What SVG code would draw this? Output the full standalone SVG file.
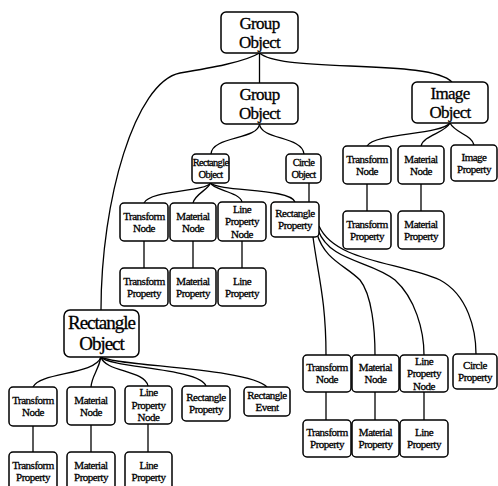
<svg xmlns="http://www.w3.org/2000/svg" width="498" height="486" viewBox="0 0 498 486">
<style>
  rect { fill: #fff; stroke: #000; stroke-width: 1.5; }
  .c path, .c line { fill: none; stroke: #000; stroke-width: 1.3; }
  text { font-family: "Liberation Serif", "Times New Roman", serif; fill: #000; text-anchor: middle; stroke: #000; stroke-width: 0.3; }
  .s { font-size: 11px; letter-spacing: -0.5px; }
  .m { font-size: 10.5px; letter-spacing: -0.7px; }
  .b { font-size: 17px; letter-spacing: -0.7px; }
  .x { font-size: 19px; letter-spacing: -1px; }
</style>
<rect x="0" y="0" width="498" height="486" style="fill:#fff;stroke:none"/>
<g class="c" id="connectors">
  <line x1="259.5" y1="53" x2="259.5" y2="83"/>
  <path d="M259.5,53 C270,62 300,64 350,66 S440,70 452,82"/>
  <path d="M259.5,53 C245,62 210,68 180,73 C135,82 101,200 101,310"/>
  <path d="M259.5,124 C258,140 212,136 211,154"/>
  <path d="M259.5,124 C261,140 302,136 304,154"/>
  <path d="M210.5,183 C205,192 150,190 144,203"/>
  <path d="M210.5,183 C208,190 195,194 193,203"/>
  <path d="M210.5,183 C213,190 240,192 242,202"/>
  <path d="M210.5,183 C220,192 290,188 295,202"/>
  <line x1="309" y1="183" x2="309" y2="202"/>
  <path d="M313,237 C318,275 326,300 326,355"/>
  <path d="M317,234 C325,260 345,265 360,280 C372,295 375,330 375,355"/>
  <path d="M318,230 C330,262 370,260 395,280 C415,298 424,330 424,355"/>
  <path d="M319,226 C335,262 400,262 440,280 C468,295 476,330 476,354"/>
  <path d="M450,123 C440,135 375,133 367,146"/>
  <path d="M450,123 C445,133 424,135 421,146"/>
  <path d="M450,123 C455,133 472,135 474,145"/>
  <path d="M101,357 C95,375 40,372 33,387"/>
  <path d="M101,357 C98,372 92,375 91,387"/>
  <path d="M101,357 C105,372 145,370 148,386"/>
  <path d="M101,357 C110,368 200,368 206,386"/>
  <path d="M101,357 C115,366 250,368 267,387"/>
  <line x1="144" y1="241" x2="144" y2="268"/>
  <line x1="193" y1="241" x2="193" y2="268"/>
  <line x1="242" y1="241" x2="242" y2="268"/>
  <line x1="367" y1="184" x2="367" y2="211"/>
  <line x1="421" y1="184" x2="421" y2="211"/>
  <line x1="33" y1="426" x2="33" y2="452"/>
  <line x1="91" y1="425" x2="91" y2="452"/>
  <line x1="148" y1="424" x2="148" y2="452"/>
  <line x1="326" y1="392" x2="326" y2="420"/>
  <line x1="375" y1="392" x2="375" y2="420"/>
  <line x1="424" y1="392" x2="424" y2="420"/>
</g>
<g id="group-object-top"><rect x="221" y="12" width="77" height="41" rx="5"/><text class="b" x="259.5" y="28.8">Group</text><text class="b" x="259.5" y="47.6">Object</text></g>
<g id="group-object"><rect x="221" y="83" width="77" height="41" rx="5"/><text class="b" x="259.5" y="99.8">Group</text><text class="b" x="259.5" y="118.6">Object</text></g>
<g id="image-object"><rect x="412" y="82" width="76" height="41" rx="5"/><text class="b" x="450" y="98.8">Image</text><text class="b" x="450" y="117.6">Object</text></g>
<g id="rectangle-object-1"><rect x="192" y="154" width="37" height="29" rx="4"/><text class="m" x="210.5" y="166.2">Rectangle</text><text class="m" x="210.5" y="177.8">Object</text></g>
<g id="circle-object"><rect x="286" y="154" width="35" height="29" rx="4"/><text class="m" x="303.5" y="166.2">Circle</text><text class="m" x="303.5" y="177.8">Object</text></g>
<g id="transform-node-1"><rect x="120" y="203" width="48" height="38" rx="4"/><text class="s" x="144" y="219.6">Transform</text><text class="s" x="144" y="231.9">Node</text></g>
<g id="material-node-1"><rect x="170" y="203" width="46" height="38" rx="4"/><text class="s" x="193" y="219.6">Material</text><text class="s" x="193" y="231.9">Node</text></g>
<g id="line-property-node-1"><rect x="218" y="202" width="48" height="39" rx="4"/><text class="s" x="242" y="212.9">Line</text><text class="s" x="242" y="225.2">Property</text><text class="s" x="242" y="237.5">Node</text></g>
<g id="rectangle-property-1"><rect x="271" y="202" width="48" height="35" rx="4"/><text class="s" x="295" y="217.1">Rectangle</text><text class="s" x="295" y="229.4">Property</text></g>
<g id="transform-property-1"><rect x="120" y="268" width="48" height="38" rx="4"/><text class="s" x="144" y="284.6">Transform</text><text class="s" x="144" y="296.9">Property</text></g>
<g id="material-property-1"><rect x="170" y="268" width="46" height="38" rx="4"/><text class="s" x="193" y="284.6">Material</text><text class="s" x="193" y="296.9">Property</text></g>
<g id="line-property-1"><rect x="218" y="268" width="48" height="38" rx="4"/><text class="s" x="242" y="284.6">Line</text><text class="s" x="242" y="296.9">Property</text></g>
<g id="transform-node-2"><rect x="343" y="146" width="48" height="38" rx="4"/><text class="s" x="367" y="162.6">Transform</text><text class="s" x="367" y="174.9">Node</text></g>
<g id="material-node-2"><rect x="398" y="146" width="46" height="38" rx="4"/><text class="s" x="421" y="162.6">Material</text><text class="s" x="421" y="174.9">Node</text></g>
<g id="image-property"><rect x="451" y="145" width="46" height="36" rx="4"/><text class="s" x="474" y="160.6">Image</text><text class="s" x="474" y="172.9">Property</text></g>
<g id="transform-property-2"><rect x="343" y="211" width="48" height="38" rx="4"/><text class="s" x="367" y="227.6">Transform</text><text class="s" x="367" y="239.9">Property</text></g>
<g id="material-property-2"><rect x="398" y="211" width="46" height="38" rx="4"/><text class="s" x="421" y="227.6">Material</text><text class="s" x="421" y="239.9">Property</text></g>
<g id="rectangle-object-2"><rect x="64" y="310" width="75" height="47" rx="6"/><text class="x" x="101.5" y="329.4">Rectangle</text><text class="x" x="101.5" y="350.4">Object</text></g>
<g id="transform-node-3"><rect x="9" y="387" width="48" height="39" rx="4"/><text class="s" x="33" y="404.1">Transform</text><text class="s" x="33" y="416.4">Node</text></g>
<g id="material-node-3"><rect x="67" y="387" width="48" height="38" rx="4"/><text class="s" x="91" y="403.6">Material</text><text class="s" x="91" y="415.9">Node</text></g>
<g id="line-property-node-3"><rect x="125" y="386" width="47" height="38" rx="4"/><text class="s" x="148.5" y="396.4">Line</text><text class="s" x="148.5" y="408.7">Property</text><text class="s" x="148.5" y="421">Node</text></g>
<g id="rectangle-property-3"><rect x="182" y="386" width="48" height="35" rx="4"/><text class="s" x="206" y="401.1">Rectangle</text><text class="s" x="206" y="413.4">Property</text></g>
<g id="rectangle-event"><rect x="244" y="387" width="46" height="29" rx="4"/><text class="s" x="267" y="399.1">Rectangle</text><text class="s" x="267" y="411.4">Event</text></g>
<g id="transform-property-3"><rect x="9" y="452" width="48" height="38" rx="4"/><text class="s" x="33" y="468.6">Transform</text><text class="s" x="33" y="480.9">Property</text></g>
<g id="material-property-3"><rect x="67" y="452" width="48" height="38" rx="4"/><text class="s" x="91" y="468.6">Material</text><text class="s" x="91" y="480.9">Property</text></g>
<g id="line-property-3"><rect x="125" y="452" width="47" height="38" rx="4"/><text class="s" x="148.5" y="468.6">Line</text><text class="s" x="148.5" y="480.9">Property</text></g>
<g id="transform-node-4"><rect x="303" y="355" width="48" height="37" rx="4"/><text class="s" x="327" y="371.1">Transform</text><text class="s" x="327" y="383.4">Node</text></g>
<g id="material-node-4"><rect x="352" y="355" width="47" height="37" rx="4"/><text class="s" x="375.5" y="371.1">Material</text><text class="s" x="375.5" y="383.4">Node</text></g>
<g id="line-property-node-4"><rect x="400" y="355" width="48" height="37" rx="4"/><text class="s" x="424" y="364.9">Line</text><text class="s" x="424" y="377.2">Property</text><text class="s" x="424" y="389.5">Node</text></g>
<g id="circle-property"><rect x="453" y="354" width="44" height="35" rx="4"/><text class="s" x="475" y="369.1">Circle</text><text class="s" x="475" y="381.4">Property</text></g>
<g id="transform-property-4"><rect x="303" y="420" width="48" height="37" rx="4"/><text class="s" x="327" y="436.1">Transform</text><text class="s" x="327" y="448.4">Property</text></g>
<g id="material-property-4"><rect x="352" y="420" width="47" height="37" rx="4"/><text class="s" x="375.5" y="436.1">Material</text><text class="s" x="375.5" y="448.4">Property</text></g>
<g id="line-property-4"><rect x="400" y="420" width="48" height="37" rx="4"/><text class="s" x="424" y="436.1">Line</text><text class="s" x="424" y="448.4">Property</text></g>
</svg>
